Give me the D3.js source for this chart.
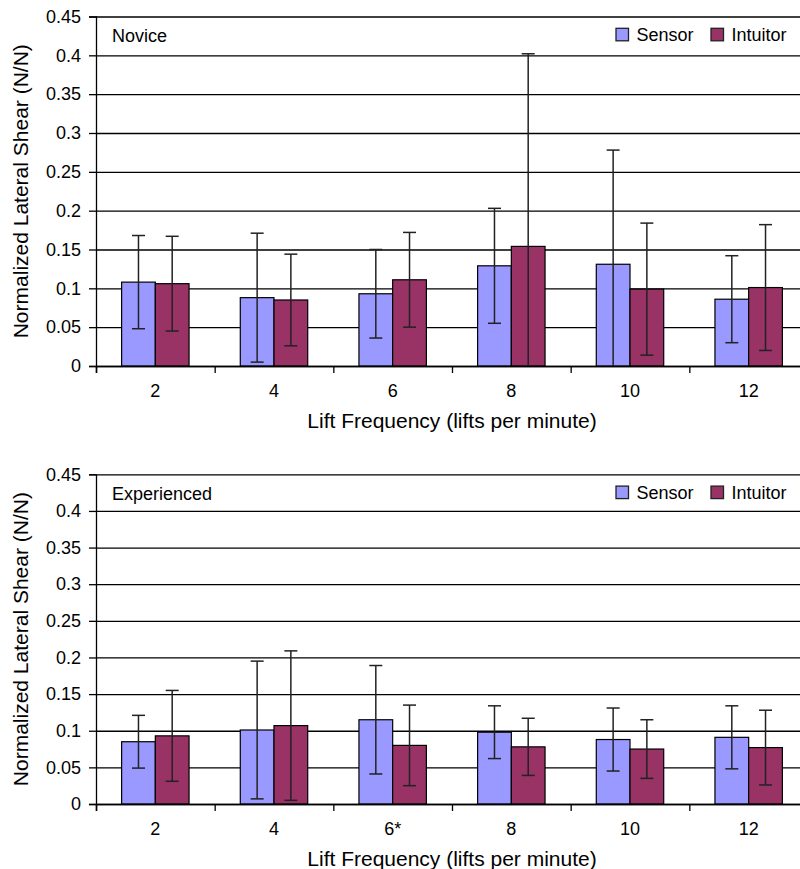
<!DOCTYPE html>
<html>
<head>
<meta charset="utf-8">
<script src="https://cdn.jsdelivr.net/npm/d3@7"></script>
<style>
  html, body { margin: 0; padding: 0; background: #fff; }
  svg { display: block; }
  text { font-family: "Liberation Sans", Arial, Helvetica, sans-serif; fill: #000; }
</style>
</head>
<body>
<svg id="chart" width="800" height="869"></svg>
<script>
// ---------- data ----------
const categoriesNovice = ["2", "4", "6", "8", "10", "12"];
const categoriesExperienced = ["2", "4", "6*", "8", "10", "12"];
const seriesNames = ["Sensor", "Intuitor"];
const seriesColors = ["#9999FF", "#993366"];

const noviceSensorMean = [0.108, 0.088, 0.093, 0.129, 0.131, 0.086];
const noviceSensorSD   = [0.060, 0.083, 0.057, 0.074, 0.147, 0.056];
const noviceIntuitorMean = [0.106, 0.085, 0.111, 0.154, 0.099, 0.101];
const noviceIntuitorSD   = [0.061, 0.059, 0.061, 0.248, 0.085, 0.081];

const expSensorMean = [0.085, 0.101, 0.115, 0.098, 0.088, 0.091];
const expSensorSD   = [0.036, 0.094, 0.074, 0.036, 0.043, 0.043];
const expIntuitorMean = [0.093, 0.107, 0.080, 0.078, 0.075, 0.077];
const expIntuitorSD   = [0.062, 0.102, 0.055, 0.039, 0.040, 0.051];

const yTickValues = [0, 0.05, 0.1, 0.15, 0.2, 0.25, 0.3, 0.35, 0.4, 0.45];
const yTickLabels = ["0", "0.05", "0.1", "0.15", "0.2", "0.25", "0.3", "0.35", "0.4", "0.45"];

const yAxisTitle = "Normalized Lateral Shear (N/N)";
const xAxisTitle = "Lift Frequency (lifts per minute)";

// ---------- layout ----------
const svg = d3.select("#chart");
const left = 96, right = 808;

const panels = [
  { label: "Novice", cats: categoriesNovice,
    means: [noviceSensorMean, noviceIntuitorMean], sds: [noviceSensorSD, noviceIntuitorSD],
    top: 16.5, bottom: 366 },
  { label: "Experienced", cats: categoriesExperienced,
    means: [expSensorMean, expIntuitorMean], sds: [expSensorSD, expIntuitorSD],
    top: 474.3, bottom: 804 }
];

panels.forEach(p => {
  const g = svg.append("g");
  const y = d3.scaleLinear().domain([0, 0.45]).range([p.bottom, p.top]);
  const x0 = d3.scaleBand().domain(p.cats).range([left, right]).paddingInner(0).paddingOuter(0);
  const x1 = d3.scaleBand().domain(seriesNames).range([0, x0.bandwidth()]).paddingInner(0).paddingOuter(0.76);

  // gridlines
  g.append("g")
    .attr("transform", `translate(${left},0)`)
    .call(d3.axisLeft(y).tickValues(yTickValues).tickSize(-(right - left)).tickFormat(""))
    .call(a => a.select(".domain").remove())
    .call(a => a.selectAll("line").attr("stroke", "#000").attr("stroke-width", 1.3));

  // y axis
  g.append("g")
    .attr("transform", `translate(${left},0)`)
    .call(d3.axisLeft(y).tickValues(yTickValues).tickSize(7).tickPadding(8)
      .tickFormat((d, i) => yTickLabels[i]))
    .call(a => a.select(".domain").attr("stroke", "#000").attr("stroke-width", 1.3))
    .call(a => a.selectAll("line").attr("stroke", "#000").attr("stroke-width", 1.3))
    .call(a => a.selectAll("text").attr("font-size", 18)
      .attr("font-family", '"Liberation Sans", Arial, sans-serif').attr("fill", "#000"));

  // bars
  seriesNames.forEach((s, si) => {
    g.append("g").selectAll("rect")
      .data(p.cats.map((c, i) => ({ c, v: p.means[si][i] })))
      .join("rect")
      .attr("x", d => x0(d.c) + x1(s))
      .attr("y", d => y(d.v))
      .attr("width", x1.bandwidth())
      .attr("height", d => y(0) - y(d.v))
      .attr("fill", seriesColors[si])
      .attr("stroke", "#000")
      .attr("stroke-width", 1.2);
  });

  // x axis baseline (value 0) and tick marks at band boundaries
  const xEdges = d3.scaleLinear().domain([0, p.cats.length]).range([left, right]);
  g.append("g")
    .attr("transform", `translate(0,${y(0)})`)
    .call(d3.axisBottom(xEdges).tickValues(d3.range(0, p.cats.length + 1)).tickSize(7).tickFormat(""))
    .call(a => a.select(".domain").attr("stroke", "#000").attr("stroke-width", 1.5))
    .call(a => a.selectAll("line").attr("stroke", "#000").attr("stroke-width", 1.3));

  // category labels
  g.append("g")
    .attr("transform", `translate(0,${y(0)})`)
    .call(d3.axisBottom(x0).tickSize(0).tickPadding(18))
    .call(a => a.select(".domain").remove())
    .call(a => a.selectAll("text").attr("font-size", 18)
      .attr("font-family", '"Liberation Sans", Arial, sans-serif').attr("fill", "#000"));

  // error bars
  seriesNames.forEach((s, si) => {
    const eg = g.append("g");
    p.cats.forEach((c, i) => {
      const cx = x0(c) + x1(s) + x1.bandwidth() / 2;
      const m = p.means[si][i], sd = p.sds[si][i];
      const hi = Math.min(0.45, m + sd), lo = Math.max(0, m - sd);
      eg.append("line").attr("x1", cx).attr("x2", cx).attr("y1", y(hi)).attr("y2", y(lo))
        .attr("stroke", "#222").attr("stroke-width", 1.5);
      if (m + sd <= 0.45)
        eg.append("line").attr("x1", cx - 6.5).attr("x2", cx + 6.5).attr("y1", y(hi)).attr("y2", y(hi))
          .attr("stroke", "#222").attr("stroke-width", 1.5);
      if (m - sd >= 0)
        eg.append("line").attr("x1", cx - 6.5).attr("x2", cx + 6.5).attr("y1", y(lo)).attr("y2", y(lo))
          .attr("stroke", "#222").attr("stroke-width", 1.5);
    });
  });

  // panel label
  g.append("text").attr("x", 112).attr("y", p.top + 25.5)
    .attr("font-size", 18).text(p.label);

  // legend
  const legX = [616, 711];
  seriesNames.forEach((s, si) => {
    g.append("rect").attr("x", legX[si]).attr("y", p.top + 11.8)
      .attr("width", 12.5).attr("height", 12.5)
      .attr("fill", seriesColors[si]).attr("stroke", "#222").attr("stroke-width", 1.3);
    g.append("text").attr("x", legX[si] + 20.5).attr("y", p.top + 24.3)
      .attr("font-size", 18).text(s);
  });

  // axis titles
  g.append("text")
    .attr("x", (left + right) / 2).attr("y", p.bottom + 62)
    .attr("text-anchor", "middle").attr("font-size", 21).text(xAxisTitle);
  g.append("text")
    .attr("transform", `translate(28,${(p.top + p.bottom) / 2}) rotate(-90)`)
    .attr("text-anchor", "middle").attr("font-size", 21).text(yAxisTitle);
});
</script>
</body>
</html>
